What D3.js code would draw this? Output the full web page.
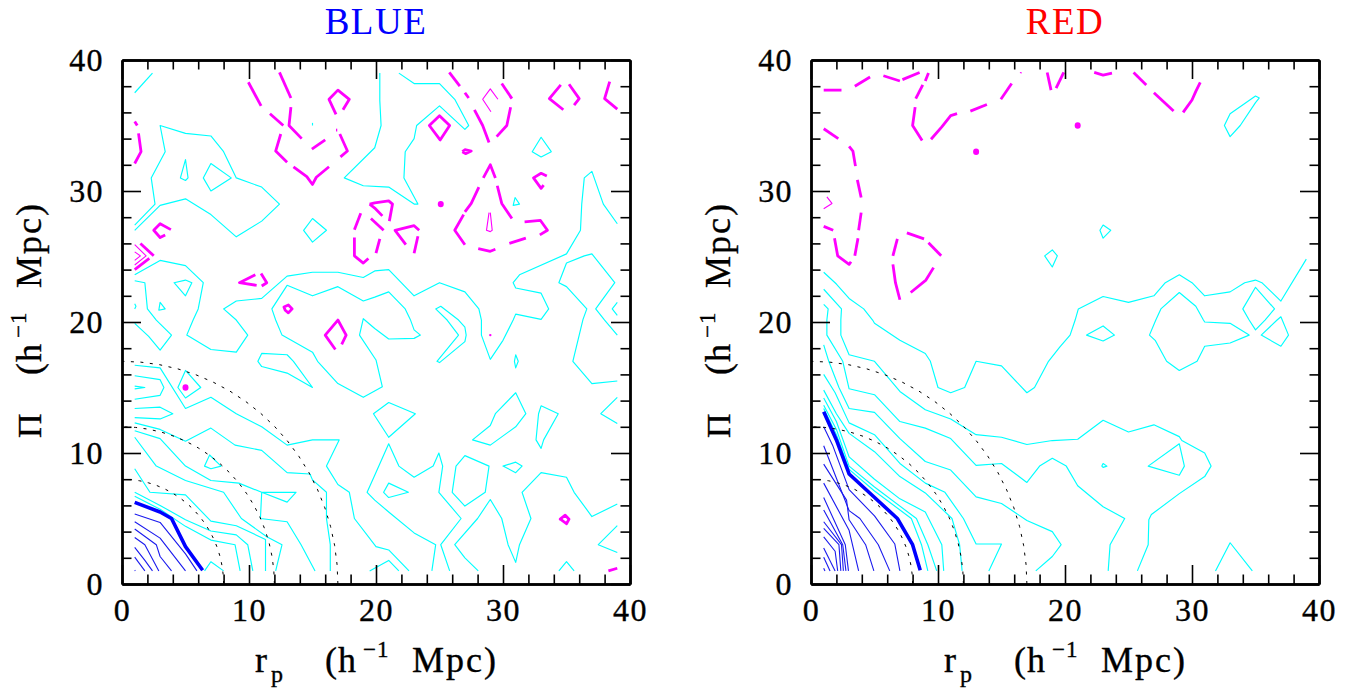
<!DOCTYPE html>
<html><head><meta charset="utf-8">
<script src="https://cdnjs.cloudflare.com/ajax/libs/d3/7.8.5/d3.min.js"></script>
<style>html,body{margin:0;background:#fff}svg{display:block}text{font-family:"Liberation Serif",serif;fill:#000;stroke:#000;stroke-width:.35px}</style>
</head><body><svg id="c" width="1356" height="698"></svg>
<script>
const majorTicks=[0,10,20,30,40];
const minorTicks=[2,4,6,8,12,14,16,18,22,24,26,28,32,34,36,38];
const arcRadii=[8,12,17];
const arcAngles=[0,5,10,15,20,25,30,35,40,45,50,55,60,65,70,75,80,85,90];

// ---- BLUE panel (rp, Pi) contour polylines
const blueCyanOpen=[
[[1,37.5],[2.4,39]],
[[1,27.4],[2.6,29],[2.3,31],[3.4,33],[3,35],[5,34.4],[7,34.2],[8,33],[9,31],[11,30.3],[12.4,29],[11,27.7],[9,26.5],[7,28.2],[5,29.4],[3,28.9],[1,27]],
[[1,23.6],[3,24.7],[5,24.3],[6.4,23],[6,21],[5.6,20.15],[5.1,19],[7,17.9],[9,17.7],[9.9,19],[9,20.15],[8,21],[9,21.6],[11,21.8],[13,23.5],[15,23.8],[17,23.8],[19,23.4],[19.9,23.9],[21,24],[23,22],[25,23],[27,22.3],[28.1,21],[28.3,20.15],[28.3,19],[29,17.15],[30,18.6],[30.8,20.15],[31,20.6],[33,20.2],[33.6,21],[33,22.2],[31,22.6],[30.8,23],[31.3,23.6],[35,25.2],[36.1,27],[36.2,29],[36.4,31],[37,31.5],[37.9,29],[39,27.5]],
[[20.3,39],[20.3,36.9],[20.4,35],[19.9,33.3],[17.5,31],[19,30.4],[21,30.3],[23,29],[23.3,29],[22.2,31],[22.3,33],[23,34],[23.2,35],[25,36.5],[27,34.7],[27.3,35],[26.2,37],[25,38.2],[23,38.2],[21.8,39]],
[[39,19],[38,20.15],[37.3,21],[38.8,23],[37,25.2],[36.4,25.05],[35,24.5],[34.4,23],[35,22.7],[36.6,21],[36.3,20.2],[36,19],[35.5,17],[37,15.3],[39,15.5]],
[[39,21.5],[38.6,21],[39,20.5]],
[[15,35.2],[15,35]],
[[1,23.15],[1.8,23],[2,21],[2.7,20.15],[3.9,19],[3,17.85],[2.1,18.9],[1,19.9]],
[[1,21.4],[1.1,21.2],[1,21]],
[[1,16.7],[3,16.5],[5,13.4],[7,14.25],[9,13],[11,12],[13,10.6],[15,11],[17.1,11],[16.1,9],[17,7.6],[17.9,7],[18.3,5],[20,2.85],[21,2.6],[22.6,1]],
[[1,15.9],[3,15.6],[3.3,15],[3,14.4],[1,14.1]],
[[1,15.1],[1.8,15],[1,14.9]],
[[1,13.4],[3,13.5],[4,13],[3,12.6],[1,12.7]],
[[1,12.3],[3,11.8],[5,10.9],[7,11.9],[8.9,10.6],[11,10.2],[13,8.5],[14.8,8.4],[15,7.95],[16.1,7],[16.1,5],[16.4,3],[16.4,1]],
[[1,11.7],[3,11.1],[5,9],[7,7.9],[9.2,7.7],[11,7],[13,6.25],[13.7,7],[11,7],[10.9,5],[13,4.75],[14.1,3],[15.2,1]],
[[1,11.2],[2.7,9],[5,7.9],[8,7],[9.4,5],[11.4,3.6],[12.6,3],[12.1,1]],
[[1,8.8],[2.2,7],[5,6.8],[7,4.8],[9,4.45],[11.3,3.4],[11.3,1]],
[[1,7],[3,6],[5,4.9],[7,4.05],[9,3.75],[9.9,3],[10.3,1]],
[[1,6.7],[3,5.7],[5,4.4],[7,3.35],[8.9,3],[9.3,1]],
[[6.5,1],[7,1.7],[8,1]],
[[25.8,1],[25.1,3],[26.7,5],[24.95,7],[25.25,9],[24.95,10],[24.5,9],[23,8.15],[21.8,9],[21,10.7],[19.9,8.3],[19.3,7],[19.9,6.4],[21,5.5],[23,3.9],[24.7,3],[24.4,1]],
[[28.05,1],[27,2],[26.2,3],[28,5],[29,6.45],[29.9,5],[30.4,3],[31,1.65],[31.3,3],[32.2,5],[31.5,7],[33,8.5],[35,8.15],[35.6,7],[37,5.15],[39,6.1]],
[[19.5,1],[21,1.8],[21.8,1]],
[[34.4,1],[35,1.7],[35.6,1]],
[[39,14.25],[37.7,13],[39,12.25]],
[[39,4.45],[37.5,3],[39,2.4]]
];
const blueCyanLoops=[
[[5,32.4],[5.2,31],[5,30.8],[4.6,31]],
[[7,32.1],[8.6,31],[7,30],[6.4,31]],
[[15,27.9],[16.1,27],[15,26.1],[14.3,27]],
[[13,22.8],[15,22],[17,22.7],[19,21.6],[19.9,21.9],[21,22.3],[22.3,21],[22.7,20.2],[23,19.4],[23.5,19],[23,18.75],[21,18.7],[19.9,19.5],[19,20.25],[18.7,19],[20,17.1],[20.5,15.05],[19,14.25],[17,15.3],[15.4,17],[15,17.7],[12.6,19],[12.1,20.15],[11.8,21]],
[[30.95,29.5],[31.3,29],[30.8,28.9]],
[[33,34.1],[33.8,33],[33,32.6],[32.3,33]],
[[24.7,21],[25.6,20.15],[26.5,19],[24.8,17],[25,16.9],[27,18.5],[27.1,19],[27,19.6],[26.5,20.15],[25.1,21.2]],
[[31,17.5],[31.2,17],[31,16.5],[30.9,17]],
[[5,23.2],[5.5,23],[5,22],[4.1,23]],
[[3,21.5],[3.4,21],[2.9,20.9]],
[[11,17.6],[13,17.5],[13.5,17],[15,15],[13,16.1],[11,16.6],[10.7,17]],
[[5,16.3],[6.2,15],[5,14.2],[4.4,15]],
[[6.9,9.85],[7.8,9],[7,8.8],[6.5,9]],
[[19.8,13],[21,13.85],[23.1,13],[21,11.2]],
[[21,7.7],[22.55,7],[21,6.6],[20.6,7]],
[[27,9.8],[28.9,9],[28.6,7],[27,5.95],[26,7],[26.3,9]],
[[27.6,11],[29,12.1],[29.4,13],[31,14.6],[31.8,13],[31,12],[29,10.6]],
[[30,9],[31,9.3],[31.5,9],[31,8.5]],
[[33,13.6],[34.35,13],[33.2,11],[33,10.35],[32.6,11],[32.8,13]]
];
const blueNavy=[
[[1,5.35],[3,4.7],[5,2.3],[5.9,1]],
[[1,4.75],[3,3.5],[5,1]],
[[1,4.2],[2.7,3],[3,2.1],[3.9,1]],
[[1,3.55],[1.8,3],[2.9,1]],
[[1,2.8],[1.8,1.8],[2.4,1]],
[[1,2.05],[1.8,1]],
[[1,1.05],[1.05,1]]
];
const blueThick=[[1,6.23],[3,5.5],[3.9,5],[5,2.85],[6.35,1.05]];
const blueMagenta=[
[[1,35.3],[1.2,35]],[[1.3,34.4],[1.5,33],[1,32.1]],
[[9.95,38.3],[10.95,36.5]],[[12.4,39.05],[13.3,37.1]],[[11.65,35.9],[12.7,35]],
[[13.3,36.4],[13.15,35],[14.15,34]],[[12.5,34.35],[12.1,33.05],[13,32.2]],
[[13.5,31.85],[14.55,31.1],[15,30.5],[15.3,31.05],[16.3,31.85]],
[[14.95,33.2],[16,33.9]],[[16.85,34.65],[16.95,34.65]],[[17.15,34.35],[17.75,33.05],[17.2,32.6]],
[[16.85,35.85],[16.3,37],[17,37.7],[17.9,37],[17.4,36.2]],
[[18.8,28.3],[18.3,27.05]],[[18.3,26.45],[18.3,25.05],[19,24.5],[19.4,24.85]],[[20.3,26.35],[20,25.25]],
[[19.5,29],[19.9,29.1],[21,29.25],[21.3,29],[21.05,27.7]],[[19.5,29],[19.9,28.7],[20.5,28.1]],[[19.6,27.9],[20.6,27]],
[[23.4,27],[23,27.35],[21.5,27],[22.35,25.9]],[[23.3,26.55],[23,25.25]],
[[25.77,39.05],[26.6,38]],[[27,37.5],[27.3,37.1]],[[27.75,36.2],[28.4,35],[28.9,33.7]],
[[29.9,38.2],[30.7,37.05]],[[30.6,36.4],[30.3,35],[29.5,34.15]],
[[26.8,33],[27.05,32.85],[27.5,33.05],[27,33.15],[26.8,33]],
[[28.45,31],[29,32],[29.4,31]],[[28.1,30.3],[27.5,29.05],[27,28.4]],[[29.55,30.4],[29.9,29.05],[30.7,27.9]],
[[26.9,28.2],[26.2,27],[27,25.9]],[[28.05,25.6],[29,25.4],[29.4,25.55]],[[30.5,26],[31.8,26.4]],
[[31.7,27.65],[32.95,27.75],[33.5,27],[32.9,26.65]],
[[35.2,38.15],[36,37.05],[35.6,36.55]],[[34.55,38.1],[33.65,37.05],[34.75,36.2]],[[38.4,38.35],[38,37.05],[39,36.25]],
[[33.45,31.15],[33,31.35],[32.4,31],[33,30.2],[33.2,30.45]],
[[3.85,27.05],[3,27.5],[2.5,27],[3,26.45],[3.4,26.65]],
[[1.45,26],[2.5,25.05]],[[2.15,24.85],[1,24]],
[[10.5,23.6],[9.25,23],[10.6,22.8]],[[10.95,23.7],[11.4,23],[11,22.75]],
[[16.8,17.9],[16,19],[17,20.15],[17.65,19],[17.3,18.3]],
[[38.3,1],[39,1.2]]
];
const blueMagentaLoops=[
[[25,35.75],[25.8,35],[25.05,33.9],[24.2,35]],
[[12.75,21.15],[13.1,21.3],[13.4,21],[13.1,20.7],[12.85,20.9]],
[[34.5,4.95],[34.9,5.25],[35.2,4.95],[35,4.6],[34.6,4.9]]
];
const blueMagentaThin=[
[[29.6,37],[29,37.8],[28.4,37],[29.05,36.05]],
[[29,28.35],[29.15,27],[29,26.9],[28.7,27],[28.9,28.35]],
[[1,25.9],[1.9,25.05],[1,24.35]],[[1,25.35],[1.45,25.05],[1,24.7]]
];
const blueDots=[[25.1,29],[5,15]];
const blueSpecks=[[29,19]];

// ---- RED panel
const redCyanOpen=[
[[1,23.8],[2,22.9],[3,21.8],[4.15,21],[4.85,20.15],[5,19.9],[7,18.6],[9,17.6],[9.4,17],[10,15],[11,14.6],[12.1,15],[13,17],[15,16.65],[17,14.6],[17.6,15],[18.7,17],[19.6,18.1],[20.4,19],[20.8,20.15],[21.05,21],[23,21.95],[25,21.5],[27,22],[27.9,23],[29,23.6],[30,23],[31,22],[33,22.3],[34.15,23],[35,23.2],[35.5,23],[37,21.6],[39,24.8]],
[[1,22.5],[2.4,21],[2.35,20.15],[2.35,19],[3,17.5],[5,17],[7,14.7],[9,13.3],[11,12.6],[13,11.4],[15,11.2],[17,10.65],[19,10.95],[21,11.05],[23,12.5],[25,11.6],[27,12.15],[29,11.25],[29.2,10.95],[31,10],[31.5,9],[31,8.2],[29,6.9],[26.8,5.3],[26.6,4.9],[26.55,3],[25.7,1]],
[[1,21.35],[1.35,21],[1.25,20.15],[1.25,19],[2.5,17],[3,14.9],[5,14.45],[7,12.4],[9,11.9],[11,11.1],[13,9.05],[15,9.2],[17,7.75],[18,9],[19,9.6],[20.1,9],[21,7.5],[23,5.9],[24.7,5],[23.55,3],[23.4,1]],
[[1,18.25],[1.4,17],[2.2,15],[3,13.4],[5,13.1],[7,11.1],[9,9.35],[11,8.7],[13,6.65],[15,6.15],[17,4.85],[19,4],[19.7,3],[19,2.1],[17.7,1]],
[[1,16],[1.9,14.6],[3,12.3],[5,11.4],[7,9.2],[9,7.7],[10.55,7],[12,5],[13,3.05],[15,3.05],[14,1]],
[[1,14.8],[2,13],[3,11.5],[5,10.1],[7,8.2],[9,6.95],[11.1,5],[11.7,3],[11.9,1]],
[[1,14.2],[2,12.4],[3,9.7],[5,8],[7,6.5],[9,5.5],[10.3,3],[10.45,1]],
[[1,13.65],[2,11.8],[3,9],[5,7.4],[8.3,5],[9.2,3],[9.9,1]],
[[1,13.4],[2,11.4],[3,8.75],[5,7.1],[7.9,5],[8.7,3],[9.2,1]],
[[31.85,1],[33,3.15],[34.75,1]]
];
const redCyanLoops=[
[[35,37.25],[35.3,37.1],[35,36.75],[33.8,35],[33,34.15],[32.55,35],[33,35.9]],
[[23,27.4],[23.6,27],[23,26.4],[22.75,27]],
[[19,25.5],[19.4,25.05],[19,24.2],[18.4,25.05]],
[[23,19.7],[23.9,19],[23,18.55],[21.7,19]],
[[23,9.2],[23.3,9],[23,8.9],[22.9,9]],
[[29,10.7],[29.4,9],[29,8.3],[26.55,9]],
[[29,22.25],[27.55,21],[27.15,20.15],[26.65,19],[27.1,18.6],[28,17],[29,16.3],[30.4,17],[31,18.15],[33,18.4],[34.5,19],[33,19.9],[31,20],[30.9,20.15],[30.3,21.2]],
[[35,22.65],[36.5,21],[35.75,20.15],[35,19.4],[34.5,20.15],[34,21]],
[[37,20.4],[37.6,19],[37,18.15],[35.45,19],[36.7,20.15]]
];
const redNavy=[
[[1,12],[1.7,10.6],[3,7.2],[5,5.2],[6.6,3.05],[7,1]],
[[1,10.55],[3,5.6],[3.85,5],[5.3,3],[6.2,1]],
[[1,9.15],[2.8,6.4],[3,4.9],[4.3,3],[4.95,1]],
[[1,7.7],[3,4.1],[3.75,1]],
[[1,6.6],[2.7,3],[2.95,1]],
[[1,5.65],[2.5,3],[2.75,1]],
[[1,4.75],[2.4,3],[2.55,1]],
[[1,4.25],[2.2,3],[2.35,1]],
[[1,3.6],[1.9,2.5],[2.1,1]],
[[1,2.75],[1.9,1]],
[[1,2.05],[1.5,1]],
[[1,1.2],[1.1,1]]
];
const redThick=[[1,13.15],[2,11],[3,8.4],[4.9,6.7],[6.8,5],[8,3],[8.6,1.05]];
const redMagenta=[
[[1,37.7],[2.4,37.7]],[[3.45,38],[4.65,38.7]],[[5.7,38.8],[7,38.4]],[[7.2,38.5],[8.55,39.05]],[[9.25,39],[9,38.4]],
[[8.8,38.1],[8.25,37.05]],[[8.2,36.4],[8,35],[8.75,33.85]],[[9.45,33.95],[10.3,34.9],[11,35.75],[11.5,35.9]],
[[12.55,36.1],[13.85,36.6]],[[14.95,37],[15.8,38.2]],[[18.6,39.05],[18.9,37.7]],[[19.3,37.85],[19.9,39.05]],
[[22.3,39.05],[23,38.85],[23.7,39]],[[25.4,39.05],[26.4,38.1]],[[27,37.5],[28.55,36.1]],[[29.3,36],[30,36.95],[30.3,37.6],[30.65,38.3]],
[[1,34.75],[2.15,34]],[[3,33.4],[3.3,33.05],[3.5,31.9]],[[3.65,30.85],[3.95,29.5]],[[3.95,28.35],[3.75,27]],[[3.7,26.4],[3.45,25.05]],
[[1,27.3],[1.75,27]],[[1.85,26.4],[2.1,25.05],[3,24.4],[3.15,24.6]],
[[6.8,26.35],[6.45,25.05]],[[7.55,26.8],[8.9,26.35]],[[9.25,26.05],[10.25,25.05]],[[9.65,24.15],[9.05,23.2],[7.85,22.25]],[[6.45,24.4],[6.65,23],[7,21.7]]
];
const redMagentaThin=[[[1.25,29.55],[1.65,29.05],[1,28.65]],[[16.45,39.05],[16.6,39]]];
const redDots=[[21,35],[13,33]];

const svg=d3.select("#c");
const yScale=d3.scaleLinear().domain([0,40]).range([584,60]);
const line=(x,closed)=>d3.line().x(d=>x(d[0])).y(d=>yScale(d[1])).curve(closed?d3.curveLinearClosed:d3.curveLinear);

function panel(left,title,color,set){
  const x=d3.scaleLinear().domain([0,40]).range([left,left+508]);
  const g=svg.append("g");
  const draw=(arr,closed,stroke,w)=>g.append("g").attr("fill","none").attr("stroke",stroke).attr("stroke-width",w)
    .attr("stroke-linejoin","round").selectAll("path").data(arr).join("path").attr("d",line(x,closed));
  draw(set.cyan,false,"#00ffff",1.15);
  draw(set.loops,true,"#00ffff",1.15);
  draw(set.navy,false,"#1a1aee",1.1);
  draw([set.thick],false,"#0000ff",3.6);
  draw(set.mag,false,"#ff00ff",2.8);
  draw(set.magLoops,true,"#ff00ff",2.8);
  draw(set.magThin,false,"#ff00ff",1.1);
  g.append("g").attr("fill","#ff00ff").selectAll("ellipse").data(set.dots).join("ellipse")
    .attr("cx",d=>x(d[0])).attr("cy",d=>yScale(d[1])).attr("rx",3).attr("ry",3.2);
  g.append("g").attr("fill","#ff00ff").selectAll("circle").data(set.specks).join("circle")
    .attr("cx",d=>x(d[0])).attr("cy",d=>yScale(d[1])).attr("r",1.2);
  // dotted reference arcs
  const arcLine=r=>d3.line().x(a=>x(r*Math.cos(a*Math.PI/180))).y(a=>yScale(r*Math.sin(a*Math.PI/180)))(arcAngles);
  g.append("g").attr("fill","none").attr("stroke","#000").attr("stroke-width",1).attr("stroke-dasharray","3 6.5")
    .selectAll("path").data(arcRadii).join("path").attr("d",arcLine);
  // axes: ticks on all four sides
  const style=s=>{s.selectAll("line").attr("stroke","#000").attr("stroke-width",1.6);
    s.select(".domain").attr("stroke","#000").attr("stroke-width",2.4);
    s.selectAll("text").attr("font-family","Liberation Serif").attr("font-size",32).attr("letter-spacing",1.4).attr("fill","#000");};
  const mk=(gen,tr,vals,size,fmt,pad)=>{const a=g.append("g").attr("transform",tr).call(gen.tickValues(vals).tickSizeInner(size).tickSizeOuter(0).tickPadding(pad||0).tickFormat(fmt||(()=>"")));a.call(style);return a;};
  mk(d3.axisBottom(x),"translate(0,584)",majorTicks,-19,d3.format("d"),14);
  mk(d3.axisBottom(x),"translate(0,584)",minorTicks,-9.5);
  mk(d3.axisTop(x),"translate(0,60)",majorTicks,-19);
  mk(d3.axisTop(x),"translate(0,60)",minorTicks,-9.5);
  mk(d3.axisLeft(yScale),`translate(${left},0)`,majorTicks,-19,d3.format("d"),18);
  mk(d3.axisLeft(yScale),`translate(${left},0)`,minorTicks,-9.5);
  mk(d3.axisRight(yScale),`translate(${left+508},0)`,majorTicks,-19);
  mk(d3.axisRight(yScale),`translate(${left+508},0)`,minorTicks,-9.5);
  // title
  svg.append("text").attr("x",left+254).attr("y",34).attr("text-anchor","middle").attr("font-size",37)
    .attr("letter-spacing",1.5).style("fill",color).style("stroke","none").text(title);
  // x label
  const xl=svg.append("g").attr("transform",`translate(${left+133},672)`);
  const piece=(p,dx,dy,size,t,ls)=>p.append("text").attr("x",dx).attr("y",dy).attr("font-size",size).attr("letter-spacing",ls||0).text(t);
  piece(xl,0,0,36,"r");
  piece(xl,16,10,24,"p");
  piece(xl,70,0,36,"(h",1);
  piece(xl,108,-15,23,"\u22121",1);
  piece(xl,157,0,36,"Mpc)",2);
  // y label
  const yl=svg.append("g").attr("transform",`translate(${left-81},438) rotate(-90)`);
  piece(yl,0,0,34,"\u03A0");
  piece(yl,63,0,36,"(h",1);
  piece(yl,100,-15,23,"\u22121",1);
  piece(yl,150,0,36,"Mpc)",2);
}
panel(122,"BLUE","#0000ff",{cyan:blueCyanOpen,loops:blueCyanLoops,navy:blueNavy,thick:blueThick,mag:blueMagenta,magLoops:blueMagentaLoops,magThin:blueMagentaThin,dots:blueDots,specks:blueSpecks});
panel(811,"RED","#ff0000",{cyan:redCyanOpen,loops:redCyanLoops,navy:redNavy,thick:redThick,mag:redMagenta,magLoops:[],magThin:redMagentaThin,dots:redDots,specks:[]});
</script></body></html>
